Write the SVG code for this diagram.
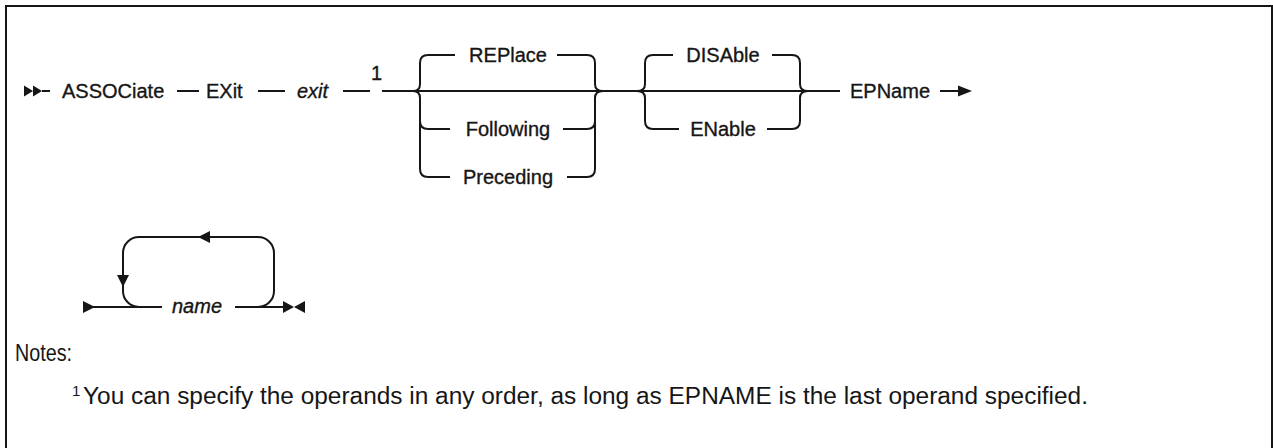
<svg xmlns="http://www.w3.org/2000/svg" width="1273" height="448" viewBox="0 0 1273 448">
<style>
.t{font-family:"Liberation Sans",Arial,sans-serif;font-size:20px;fill:#161616;stroke:#161616;stroke-width:0.35}
.i{font-style:italic}
.n{font-family:"Liberation Sans",Arial,sans-serif;fill:#161616}
.l{fill:none;stroke:#161616;stroke-width:2}
.a{fill:#161616}
</style>
<rect x="6" y="6" width="1266" height="460" fill="#fff" stroke="#161616" stroke-width="2"/>
<g id="connectors">
<path class="l" d="M42 91H50M177 91H199M258 91H285M343 91H370M382 91H840M940 91H960"/>
<path class="a" d="M24 85.5L33 91L24 96.5ZM33 85.5L42 91L33 96.5Z"/>
<path class="a" d="M958 85.5L972 91L958 96.5Z"/>
<path class="l" d="M413 91Q420 91 420 84V63Q420 55 428 55H455M557 55H587Q595 55 595 63V84Q595 91 603 91"/>
<path class="l" d="M413 91Q420 91 420 98V121Q420 129 428 129H450M563 129H587Q595 129 595 121V98Q595 91 603 91"/>
<path class="l" d="M420 121V169Q420 177 428 177H450M567 177H587Q595 177 595 169V121"/>
<path class="l" d="M637 91Q645 91 645 84V63Q645 55 653 55H673M772 55H792Q800 55 800 63V84Q800 91 808 91"/>
<path class="l" d="M637 91Q645 91 645 98V121Q645 129 653 129H679M767 129H792Q800 129 800 121V98Q800 91 808 91"/>
<path class="l" d="M93 307H162M235 307H284"/>
<path class="l" d="M139 307A16 16 0 0 1 123 291V253A16 16 0 0 1 139 237H258A16 16 0 0 1 274 253V291A16 16 0 0 1 258 307"/>
<path class="a" d="M83 301L95 307L83 313Z"/>
<path class="a" d="M283 301L294 307L283 313ZM305 301L294 307L305 313Z"/>
<path class="a" d="M198 237L210 231L210 243Z"/>
<path class="a" d="M117 275L129 275L123 287Z"/>
</g>
<g id="n-associate"><text class="t" x="62" y="98">ASSOCiate</text></g>
<g id="n-exit-kw"><text class="t" x="206" y="98">EXit</text></g>
<g id="n-exit-var"><text class="t i" x="297" y="98">exit</text></g>
<g id="n-fn1"><text class="t" x="371" y="80" font-size="17">1</text></g>
<g id="n-replace"><text class="t" x="508" y="62" text-anchor="middle">REPlace</text></g>
<g id="n-following"><text class="t" x="508" y="136" text-anchor="middle">Following</text></g>
<g id="n-preceding"><text class="t" x="508" y="184" text-anchor="middle">Preceding</text></g>
<g id="n-disable"><text class="t" x="723" y="62" text-anchor="middle">DISAble</text></g>
<g id="n-enable"><text class="t" x="723" y="136" text-anchor="middle">ENable</text></g>
<g id="n-epname"><text class="t" x="850" y="98">EPName</text></g>
<g id="n-name"><text class="t i" x="172" y="313">name</text></g>
<g id="notes">
<text class="n" x="15" y="361" font-size="23" textLength="57" lengthAdjust="spacingAndGlyphs">Notes:</text>
<text class="n" x="72" y="396" font-size="15">1</text>
<text class="n" x="83" y="404" font-size="23" textLength="1005" lengthAdjust="spacingAndGlyphs">You can specify the operands in any order, as long as EPNAME is the last operand specified.</text>
</g>
</svg>
